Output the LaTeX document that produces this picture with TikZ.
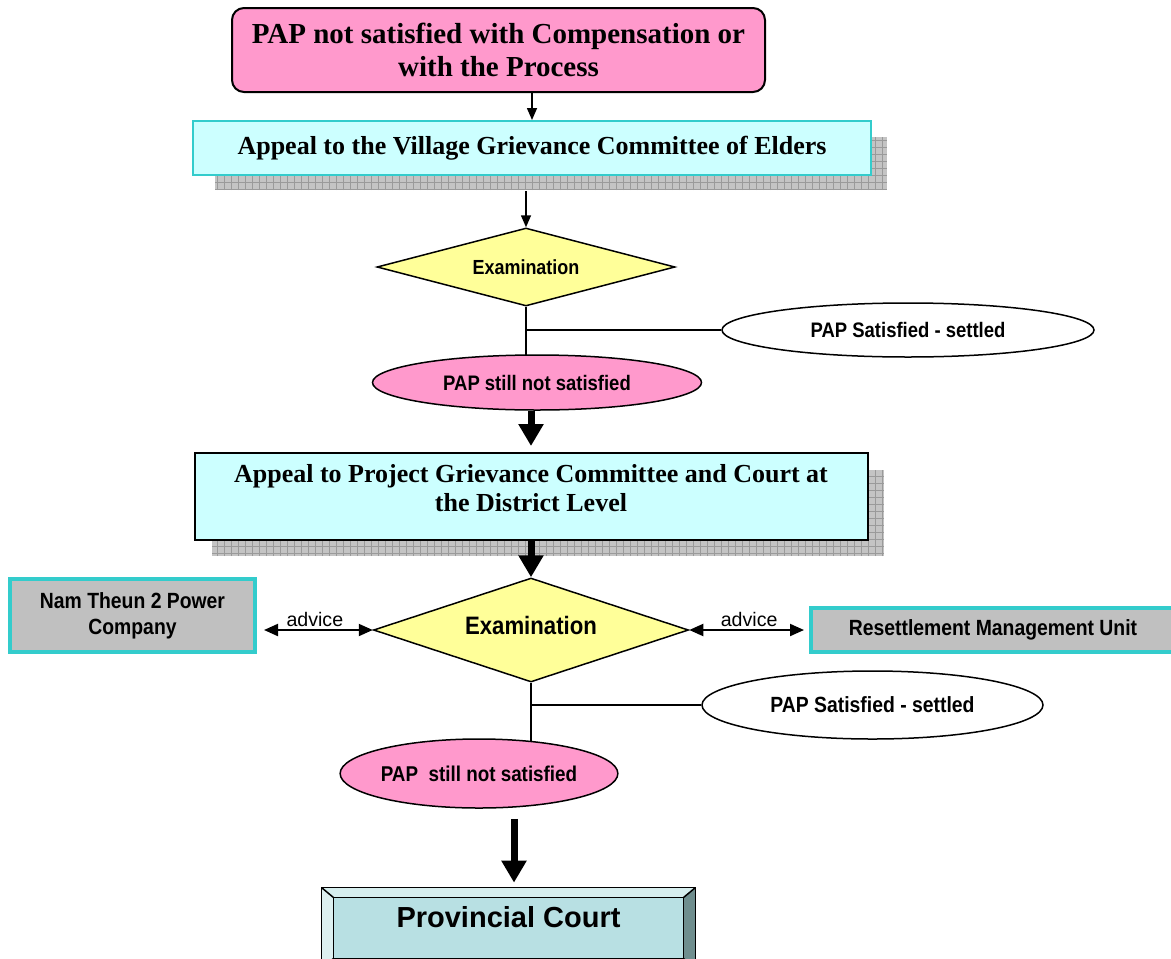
\documentclass[tikz,border=0pt]{standalone}
\usepackage{fontspec}
\setmainfont{Liberation Serif}
\newfontfamily\arialfont{Liberation Sans}
\newfontfamily\narrowfont{Liberation Sans}[FakeStretch=0.88]
\usetikzlibrary{shapes.geometric,arrows.meta,calc}

\definecolor{pappink}{HTML}{FF99CC}
\definecolor{appealcyan}{HTML}{CCFFFF}
\definecolor{tealedge}{HTML}{33CCCC}
\definecolor{examyellow}{HTML}{FFFF99}
\definecolor{agencygray}{HTML}{C0C0C0}
\definecolor{shadowgray}{HTML}{C4C4C4}
\definecolor{gridgray}{HTML}{9A9A9A}
\definecolor{courtfill}{HTML}{B8E0E3}
\definecolor{beveltop}{HTML}{D6EEEE}
\definecolor{bevelleft}{HTML}{DDF0F0}
\definecolor{bevelright}{HTML}{6F8E8E}
\definecolor{bevelbottom}{HTML}{8EAEAE}

\pgfdeclarelayer{background}
\pgfsetlayers{background,main}

\newcommand{\gridshadow}[4]{%
  \fill[shadowgray] (#1,#2) rectangle (#3,#4);
  \begin{scope}
    \clip (#1,#2) rectangle (#3,#4);
    \draw[gridgray, line width=0.3pt, step=3.5pt] (#1,#2) grid (#3,#4);
  \end{scope}}

\tikzset{
  papbox/.style={rectangle, rounded corners=6pt, draw, line width=1pt, fill=pappink,
    align=center, font=\bfseries\fontsize{14.5}{16.5}\selectfont},
  appealbox/.style={rectangle, fill=appealcyan, inner sep=0pt,
    font=\bfseries\fontsize{13}{14.5}\selectfont},
  exambox/.style={diamond, draw, line width=0.75pt, fill=examyellow, inner sep=0pt},
  outcome/.style={ellipse, draw, line width=0.75pt, inner sep=0pt},
  agency/.style={rectangle, draw=tealedge, line width=2pt, fill=agencygray, inner sep=0pt,
    align=center, font=\narrowfont\bfseries\fontsize{11}{13}\selectfont},
  link/.style={line width=0.75pt},
  thinarrow/.style={line width=0.75pt, -{Triangle[width=5pt,length=6pt]}},
  thickarrow/.style={line width=3.5pt, -{Triangle[width=12pt,length=11pt]}},
  advicearrow/.style={line width=1pt, {Triangle[width=6pt,length=7pt]}-{Triangle[width=6pt,length=7pt]}},
}

\begin{document}
\begin{tikzpicture}[x=0.5pt,y=-0.5pt]
\useasboundingbox (0,0) rectangle (1171,958);

% shadows behind the appeal boxes
\gridshadow{215}{137}{887}{190}
\gridshadow{212}{470}{884}{556}

\node[papbox, minimum width=266.5pt, minimum height=42pt] (dissatisfied) at (498.5,50) {PAP not satisfied with Compensation or\\with the Process};
\node[appealbox, draw=tealedge, line width=1pt, minimum width=339pt, minimum height=27pt] (village) at (532,148) {Appeal to the Village Grievance Committee of Elders};
\node[exambox, aspect=3.8, minimum width=149pt, minimum height=39pt, font=\narrowfont\bfseries\fontsize{10.2}{12}\selectfont] (exam1) at (526,267) {Examination};
\node[outcome, fill=white, minimum width=186pt, minimum height=27pt, font=\narrowfont\bfseries\fontsize{10.5}{12}\selectfont] (settled1) at (908,330) {PAP Satisfied - settled};
\node[outcome, fill=pappink, minimum width=164.5pt, minimum height=27.5pt, font=\narrowfont\bfseries\fontsize{10.5}{12}\selectfont] (still1) at (537,382.5) {PAP still not satisfied};

\node[appealbox, draw, line width=1pt, minimum width=336.5pt, minimum height=43.5pt] (district) at (531,496.5) {};
\node[align=center, font=\bfseries\fontsize{13}{14.5}\selectfont] (districttext) at (531,488) {Appeal to Project Grievance Committee and Court at\\the District Level};

\node[exambox, aspect=3, minimum width=157.5pt, minimum height=52pt, text depth=5pt, font=\narrowfont\bfseries\fontsize{12.6}{14}\selectfont] (exam2) at (531,630) {Examination};
\node[agency, minimum width=122.5pt, minimum height=36.5pt] (powerco) at (132.5,615.5) {Nam Theun 2 Power\\Company};
\node[agency, minimum width=182pt, minimum height=22pt] (rmu) at (993,630) {Resettlement Management Unit};
\node[outcome, fill=white, minimum width=170.5pt, minimum height=34pt, font=\narrowfont\bfseries\fontsize{11}{13}\selectfont] (settled2) at (872.5,705) {PAP Satisfied - settled};
\node[outcome, fill=pappink, minimum width=122pt, minimum height=34.5pt, font=\narrowfont\bfseries\fontsize{10.7}{12}\selectfont] (still2) at (479,773.5) {PAP~ still not satisfied};

% bevelled court box
\node[rectangle, fill=courtfill, minimum width=186.5pt, minimum height=40pt, inner sep=0pt] (court) at (508.5,928) {};
\coordinate (iNW) at ($(court.north west)+(12,10)$);
\coordinate (iNE) at ($(court.north east)+(-12,10)$);
\coordinate (iSW) at ($(court.south west)+(12,-10)$);
\coordinate (iSE) at ($(court.south east)+(-12,-10)$);
\fill[beveltop] (court.north west) -- (court.north east) -- (iNE) -- (iNW) -- cycle;
\fill[bevelleft] (court.north west) -- (iNW) -- (iSW) -- (court.south west) -- cycle;
\fill[bevelright] (court.north east) -- (court.south east) -- (iSE) -- (iNE) -- cycle;
\fill[bevelbottom] (court.south west) -- (court.south east) -- (iSE) -- (iSW) -- cycle;
\draw[line width=0.75pt] (court.north west) rectangle (court.south east);
\draw[line width=0.75pt] (iNW) rectangle (iSE);
\draw[line width=0.75pt] (court.north west) -- (iNW) (court.north east) -- (iNE)
  (court.south west) -- (iSW) (court.south east) -- (iSE);
\node[font=\arialfont\bfseries\fontsize{14.5}{17}\selectfont] (courttext) at (508.5,917) {Provincial Court};

% connectors
\begin{pgfonlayer}{background}
  \draw[link] (exam1.south) -- (exam1.south |- still1.center);
  \draw[link] (exam2.south) -- (exam2.south |- still2.center);
\end{pgfonlayer}
\draw[thinarrow] (dissatisfied.south -| village.north) -- (village.north);
\draw[thinarrow] ($(exam1.north |- village.south)+(0,15)$) -- (exam1.north);
\draw[link] (exam1.south |- settled1.west) -- (settled1.west);
\draw[thickarrow, shorten >=3pt] (still1.south -| district.north) -- (district.north);
\draw[thickarrow] (district.south) -- (exam2.north);
\draw[advicearrow, shorten <=3.5pt] (exam2.west -| powerco.east) -- node[above, inner sep=1pt, font=\arialfont\fontsize{9.8}{11}\selectfont] (adviceleft) {advice} (exam2.west);
\draw[advicearrow, shorten >=2.5pt] (exam2.east) -- node[above, inner sep=1pt, font=\arialfont\fontsize{9.8}{11}\selectfont] (adviceright) {advice} (exam2.east -| rmu.west);
\draw[link] (exam2.south |- settled2.west) -- (settled2.west);
\draw[thickarrow] ($(still2.south)+(35,10)$) -- ($(court.north)+(5.5,-5)$);
\end{tikzpicture}
\end{document}
